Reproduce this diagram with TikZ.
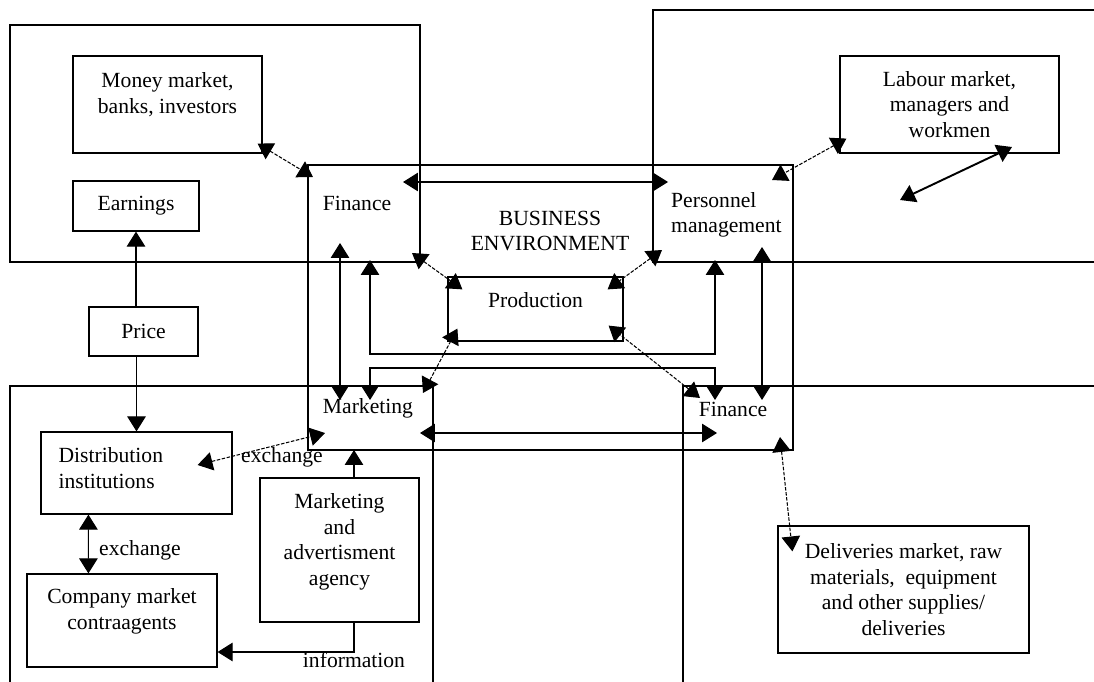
\documentclass[tikz,border=0pt]{standalone}
\usepackage{fontspec}
\setmainfont{Liberation Serif}
\usetikzlibrary{arrows.meta}
\newcommand{\boxfont}{\fontsize{12.3}{14.5}\selectfont}

\begin{document}
\begin{tikzpicture}[x=0.02cm, y=-0.02cm,
    region/.style={line width=0.7pt},
    box/.style={draw, line width=0.7pt, align=center, font=\boxfont, inner sep=3pt},
    txt/.style={align=center, font=\boxfont},
    link/.style={line width=0.6pt, {Triangle[length=8.5pt,width=10.5pt]}-{Triangle[length=8.5pt,width=10.5pt]}},
    oneway/.style={line width=0.6pt, -{Triangle[length=8.5pt,width=10.5pt]}},
    slant/.style={link, line width=0.6pt, dash pattern=on 2pt off 0.9pt}]
    \useasboundingbox (0,0) rectangle (1094,682);

    % Draw the four environments
    \draw[region] (10,25) rectangle (420,262);
    \draw[region] (1094,10) -- (653,10) -- (653,262) -- (1094,262);
    \draw[region] (10,682) -- (10,386) -- (433,386) -- (433,682);
    \draw[region] (1094,386) -- (683,386) -- (683,682);
    % Draw the company frame
    \draw[region] (308,165) rectangle (793,450);

    % Outer boxes
    \node[box, minimum width=3.78cm, minimum height=1.94cm,
        label={[txt, anchor=north, shift={(0,11)}]north:{Money market,\\banks, investors}}] (money) at (167.5,104.5) {};
    \node[box, minimum width=2.52cm, minimum height=1cm] (earn) at (136,206) {Earnings};
    \node[box, minimum width=2.18cm, minimum height=0.98cm] (price) at (143.5,331.5) {Price};
    \node[box, minimum width=3.82cm, minimum height=1.64cm,
        label={[txt, align=left, anchor=north west, shift={(12,10)}]north west:{Distribution\\institutions}}] (distr) at (136.5,473) {};
    \node[box, minimum width=3.8cm, minimum height=1.86cm,
        label={[txt, anchor=north, shift={(0,9)}]north:{Company market\\contraagents}}] (comp) at (122,620.5) {};
    \node[box, minimum width=3.18cm, minimum height=2.88cm,
        label={[txt, anchor=north, shift={(0,10)}]north:{Marketing\\and\\advertisment\\agency}}] (agency) at (339.5,550) {};
    \node[box, minimum width=4.38cm, minimum height=1.94cm] (labour) at (949.5,104.5) {Labour market,\\managers and\\workmen};
    \node[box, minimum width=5.02cm, minimum height=2.54cm] (deliv) at (903.5,589.5) {Deliveries market, raw\\materials,~ equipment\\and other supplies/\\deliveries};
    \node[box, minimum width=3.5cm, minimum height=1.28cm,
        label={[txt, anchor=north, shift={(0,10)}]north:Production}] (prod) at (535.5,309) {};

    % Company departments
    \node[txt] (fin1) at (357,203) {Finance};
    \node[txt] (env) at (550,231) {BUSINESS\\ENVIRONMENT};
    \node[txt, align=left, anchor=west] (pers) at (665,215) {Personnel\\management};
    \node[txt] (mark) at (368,408) {Marketing};
    \node[txt] (fin2) at (733,409) {Finance};

    % Arrow ends inside the departments
    \coordinate (finA) at (313,177);
    \coordinate (finB) at (403,182);
    \coordinate (perB) at (668,182);
    \coordinate (finC) at (412,253);
    \coordinate (perC) at (662,250);
    \coordinate (mkC) at (423,393);
    \coordinate (fnC) at (700,398);
    \coordinate (finD) at (340,243);
    \coordinate (mkD) at (340,400);
    \coordinate (perD) at (762,247);
    \coordinate (fnD) at (762,400);
    \coordinate (finE) at (370,260);
    \coordinate (perE) at (715,260);
    \coordinate (mkE) at (370,400);
    \coordinate (fnE) at (715,400);
    \coordinate (mkF) at (420,433);
    \coordinate (fnF) at (717,433);
    \coordinate (perG) at (772,180);
    \coordinate (fnG) at (780,437);
    \coordinate (mkG) at (325,433);
    \coordinate (mkH) at (354,450);
    \coordinate (freeA) at (1012,147);
    \coordinate (freeB) at (900,200);

    % Links between departments
    \draw[link] (finB) -- (perB);
    \draw[link] (finD) -- (mkD);
    \draw[link] (perD) -- (fnD);
    \draw[link] (finE) -- ++(0,94) -| (perE);
    \draw[link] (mkE) -- ++(0,-32) -| (fnE);
    \draw[link] (mkF) -- (fnF);
    \draw[slant] (finC) -- ([shift={(15,13)}]prod.north west);
    \draw[slant] (perC) -- ([shift={(-16,13)}]prod.north east);
    \draw[slant] (mkC) -- ([shift={(10,-13)}]prod.south west);
    \draw[slant] (fnC) -- ([shift={(-15,-16)}]prod.south east);

    % Links to the environment
    \draw[slant] ([shift={(-5,-10)}]money.south east) -- (finA);
    \draw[slant] ([shift={(7,-15)}]labour.south west) -- (perG);
    \draw[slant] (fnG) -- ([shift={(15,26)}]deliv.north west);
    \draw[link, line width=1.1pt] (freeA) -- (freeB);
    \draw[oneway] (price.north -| earn.south) -- (earn.south);
    \draw[oneway] (price.south -| distr.north) -- (distr.north);
    \draw[slant] ([shift={(-35,-8)}]distr.east) -- (mkG);
    \draw[link] ([shift={(48,0)}]distr.south west) -- ([shift={(62,0)}]comp.north west);
    \draw[oneway] (agency.north -| mkH) -- (mkH);
    \draw[oneway] (agency.south -| mkH) |- ([shift={(0,31.5)}]comp.east);

    % Add labels
    \node[txt] (exch1) at (282,457) {exchange};
    \node[txt] (exch2) at (140,550) {exchange};
    \node[txt] (info) at (354,660) {information};
\end{tikzpicture}
\end{document}
